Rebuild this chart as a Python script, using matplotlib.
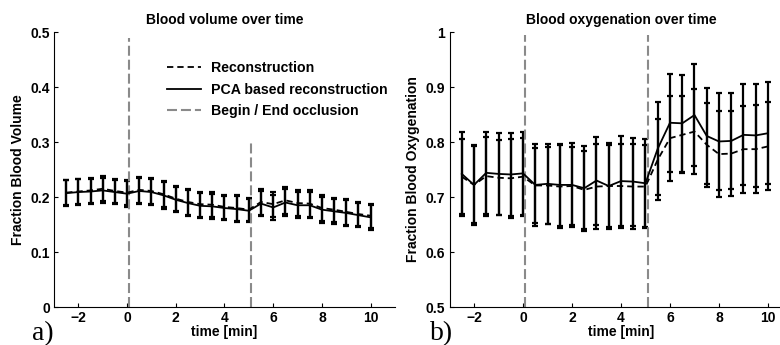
import numpy as np
import matplotlib
matplotlib.use("Agg")
import matplotlib.pyplot as plt
from matplotlib.lines import Line2D

plt.rcParams['font.family'] = ['Liberation Sans', 'DejaVu Sans']
plt.rcParams['font.weight'] = 'bold'

# time points [min]
t = [-2.5, -2, -1.5, -1, -0.5, 0, 0.5, 1, 1.5, 2, 2.5, 3, 3.5, 4, 4.5,
     5, 5.5, 6, 6.5, 7, 7.5, 8, 8.5, 9, 9.5, 10]

# blood volume
bv_recon = [0.208, 0.210, 0.212, 0.215, 0.211, 0.208, 0.213, 0.211, 0.205, 0.197,
            0.191, 0.187, 0.186, 0.182, 0.180, 0.177, 0.191, 0.187, 0.194, 0.189,
            0.188, 0.180, 0.177, 0.173, 0.169, 0.166]
bv_recon_err = [0.023, 0.023, 0.022, 0.023, 0.022, 0.023, 0.023, 0.023, 0.024, 0.023,
                0.023, 0.023, 0.023, 0.022, 0.023, 0.021, 0.023, 0.023, 0.024, 0.024,
                0.024, 0.023, 0.022, 0.023, 0.022, 0.022]
bv_pca = [0.207, 0.209, 0.210, 0.212, 0.209, 0.206, 0.211, 0.209, 0.203, 0.195,
          0.189, 0.184, 0.183, 0.180, 0.178, 0.175, 0.188, 0.181, 0.190, 0.185,
          0.185, 0.177, 0.174, 0.171, 0.167, 0.163]
bv_pca_err = [0.0235, 0.023, 0.0225, 0.023, 0.022, 0.0235, 0.0235, 0.023, 0.024, 0.023,
              0.023, 0.023, 0.023, 0.022, 0.023, 0.021, 0.023, 0.023, 0.024, 0.024,
              0.024, 0.0235, 0.0225, 0.023, 0.022, 0.0225]

# blood oxygenation
ox_recon = [0.737, 0.722, 0.738, 0.735, 0.734, 0.737, 0.721, 0.721, 0.719, 0.720,
            0.713, 0.719, 0.720, 0.720, 0.719, 0.719, 0.768, 0.807, 0.813, 0.819,
            0.795, 0.778, 0.779, 0.787, 0.787, 0.792]
ox_recon_err = [0.068, 0.070, 0.072, 0.068, 0.072, 0.071, 0.069, 0.070, 0.075, 0.071,
                0.071, 0.078, 0.075, 0.077, 0.077, 0.076, 0.073, 0.077, 0.070, 0.077,
                0.076, 0.078, 0.078, 0.079, 0.080, 0.080]
ox_pca = [0.742, 0.722, 0.744, 0.742, 0.741, 0.743, 0.722, 0.724, 0.722, 0.722,
          0.716, 0.730, 0.720, 0.729, 0.728, 0.725, 0.788, 0.835, 0.834, 0.849,
          0.811, 0.801, 0.802, 0.813, 0.812, 0.816]
ox_pca_err = [0.077, 0.072, 0.074, 0.074, 0.075, 0.075, 0.074, 0.073, 0.074, 0.077,
              0.077, 0.080, 0.078, 0.082, 0.080, 0.080, 0.085, 0.089, 0.088, 0.092,
              0.087, 0.089, 0.087, 0.092, 0.093, 0.093]

occl_times = [0.1, 5.1]
bv_occl_top = [0.49, 0.30]
ox_occl_top = [0.995, 0.995]

titles = ['Blood volume over time', 'Blood oxygenation over time']
ylabels = ['Fraction Blood Volume', 'Fraction Blood Oxygenation']
panel_tags = ['a)', 'b)']
legend_labels = ['Reconstruction', 'PCA based reconstruction', 'Begin / End occlusion']

fig = plt.figure(figsize=(7.8, 3.45), dpi=100)
ax1 = fig.add_axes([0.0692, 0.1101, 0.4372, 0.7971])
ax2 = fig.add_axes([0.5763, 0.1101, 0.4397, 0.7971])

gray = '#8a8a8a'
occl_style = (0, (4.8, 1.9))
recon_style = (0, (3.5, 2.2))
fs = 10

def draw_panel(ax, recon, recon_err, pca, pca_err, ylim, yticks, occl_top):
    ax.errorbar(t, recon, yerr=recon_err, color='black', lw=1.3, ls=recon_style,
                elinewidth=1.6, capsize=2.3, capthick=1.6)
    ax.errorbar(t, pca, yerr=pca_err, color='black', lw=1.3, ls='-',
                elinewidth=1.6, capsize=2.3, capthick=1.6)
    for i, tt in enumerate(occl_times):
        ax.plot([tt, tt], [ylim[0], occl_top[i]], color=gray, lw=1.5, ls=occl_style)
    ax.set_xlim(-3, 11)
    ax.set_ylim(*ylim)
    ax.set_xticks([-2, 0, 2, 4, 6, 8, 10])
    ax.set_yticks(yticks)
    ax.set_yticklabels(['%g' % v for v in yticks])
    ax.spines['top'].set_visible(False)
    ax.spines['right'].set_visible(False)
    ax.tick_params(direction='in', length=3, width=0.8, labelsize=fs, pad=3)
    ax.set_xlabel('time [min]', fontsize=fs, fontweight='bold', labelpad=0)

draw_panel(ax1, bv_recon, bv_recon_err, bv_pca, bv_pca_err, (0, 0.5),
           [0, 0.1, 0.2, 0.3, 0.4, 0.5], bv_occl_top)
draw_panel(ax2, ox_recon, ox_recon_err, ox_pca, ox_pca_err, (0.5, 1),
           [0.5, 0.6, 0.7, 0.8, 0.9, 1], ox_occl_top)

for ax, title, ylab in zip([ax1, ax2], titles, ylabels):
    ax.set_title(title, fontsize=fs, fontweight='bold', pad=6)
    ax.set_ylabel(ylab, fontsize=fs, fontweight='bold', labelpad=4)

handles = [Line2D([], [], color='black', lw=1.3, ls=recon_style),
           Line2D([], [], color='black', lw=1.3),
           Line2D([], [], color=gray, lw=1.5, ls=occl_style)]
ax1.legend(handles, legend_labels,
           loc='upper left', bbox_to_anchor=(0.331, 0.893), frameon=False,
           borderaxespad=0, borderpad=0, handlelength=2.4, handletextpad=0.7,
           labelspacing=0.52, prop={'size': 10.2, 'weight': 'bold'})

fig.text(32 / 780, 1 - 340 / 345, panel_tags[0], family='Liberation Serif', fontsize=20,
         fontweight='normal')
fig.text(430 / 780, 1 - 340 / 345, panel_tags[1], family='Liberation Serif', fontsize=20,
         fontweight='normal')

plt.savefig('out.png', dpi=100)
